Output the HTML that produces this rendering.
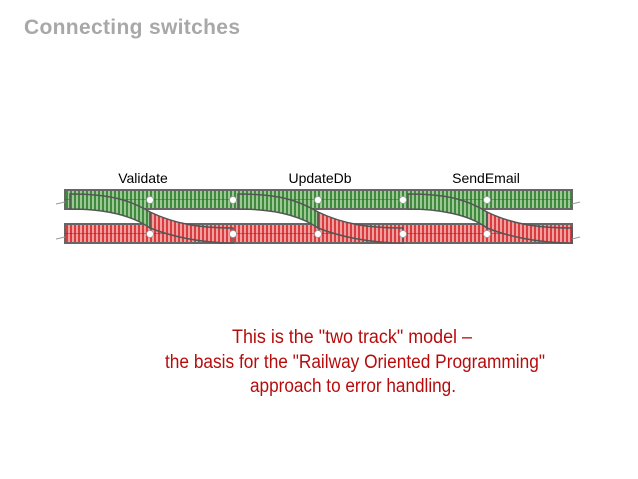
<!DOCTYPE html>
<html><head><meta charset="utf-8"><style>
html,body{margin:0;padding:0;background:#fff;}
svg{display:block}
</style></head><body>
<svg width="638" height="479" viewBox="0 0 638 479" xmlns="http://www.w3.org/2000/svg">
<defs>
<pattern id="gt" width="4" height="10" patternUnits="userSpaceOnUse">
<rect width="4" height="10" fill="#3f8a3f"/><rect x="0" width="2" height="10" fill="#9cc894"/>
</pattern>
<pattern id="rt" width="4" height="10" patternUnits="userSpaceOnUse">
<rect width="4" height="10" fill="#d83c3c"/><rect x="0" width="2" height="10" fill="#f0a0a0"/>
</pattern>
</defs>
<text x="24" y="34" font-family="Liberation Sans, sans-serif" font-weight="bold" font-size="21" fill="#a8a8a8" textLength="216">Connecting switches</text>

<g font-family="Liberation Sans, sans-serif" font-size="14" fill="#000" text-anchor="middle">
<text x="143" y="183">Validate</text>
<text x="320" y="183">UpdateDb</text>
<text x="486" y="183">SendEmail</text>
</g>

<rect x="65" y="190" width="507" height="19" fill="url(#gt)" stroke="#666" stroke-width="2"/>
<rect x="65" y="224" width="507" height="19" fill="url(#rt)" stroke="#666" stroke-width="2"/>
<line x1="65" y1="199.5" x2="572" y2="199.5" stroke="#2d6a2d" stroke-width="1" opacity="0.5"/>
<line x1="65" y1="233.5" x2="572" y2="233.5" stroke="#a02020" stroke-width="1" opacity="0.5"/>

<g stroke="#555" stroke-width="1.5">
<path d="M70,194 C110,194 130,200 150,212 L150,228 C130,214 100,209 70,209 Z" fill="url(#gt)"/>
<path d="M150,212 C175,224 200,228 233,228 L233,243 C200,243 170,236 150,228 Z" fill="url(#rt)"/>
<path d="M238,194 C278,194 298,200 318,212 L318,228 C298,214 268,209 238,209 Z" fill="url(#gt)"/>
<path d="M318,212 C343,224 368,228 403,228 L403,243 C368,243 338,236 318,228 Z" fill="url(#rt)"/>
<path d="M408,194 C448,194 468,200 487,212 L487,228 C468,214 438,209 408,209 Z" fill="url(#gt)"/>
<path d="M487,212 C512,224 537,228 572,228 L572,243 C537,243 507,236 487,228 Z" fill="url(#rt)"/>
</g>
<path d="M56,204 L65,202 M56,239 L65,237 M572,204 L580,202 M572,239 L580,237" stroke="#999" stroke-width="1"/>

<g fill="#fff" stroke="#999" stroke-width="0.8">
<circle cx="150" cy="200" r="3.5"/><circle cx="233" cy="200" r="3.5"/><circle cx="318" cy="200" r="3.5"/><circle cx="403" cy="200" r="3.5"/><circle cx="487" cy="200" r="3.5"/>
<circle cx="150" cy="234" r="3.5"/><circle cx="233" cy="234" r="3.5"/><circle cx="318" cy="234" r="3.5"/><circle cx="403" cy="234" r="3.5"/><circle cx="487" cy="234" r="3.5"/>
</g>

<g font-family="Liberation Sans Narrow, Liberation Sans, sans-serif" font-size="19" fill="#b80c0c" text-anchor="start">
<text x="232" y="343" textLength="240" lengthAdjust="spacingAndGlyphs">This is the "two track" model –</text>
<text x="165" y="368" textLength="380" lengthAdjust="spacingAndGlyphs">the basis for the "Railway Oriented Programming"</text>
<text x="250" y="392" textLength="206" lengthAdjust="spacingAndGlyphs">approach to error handling.</text>
</g>
</svg>
</body></html>
